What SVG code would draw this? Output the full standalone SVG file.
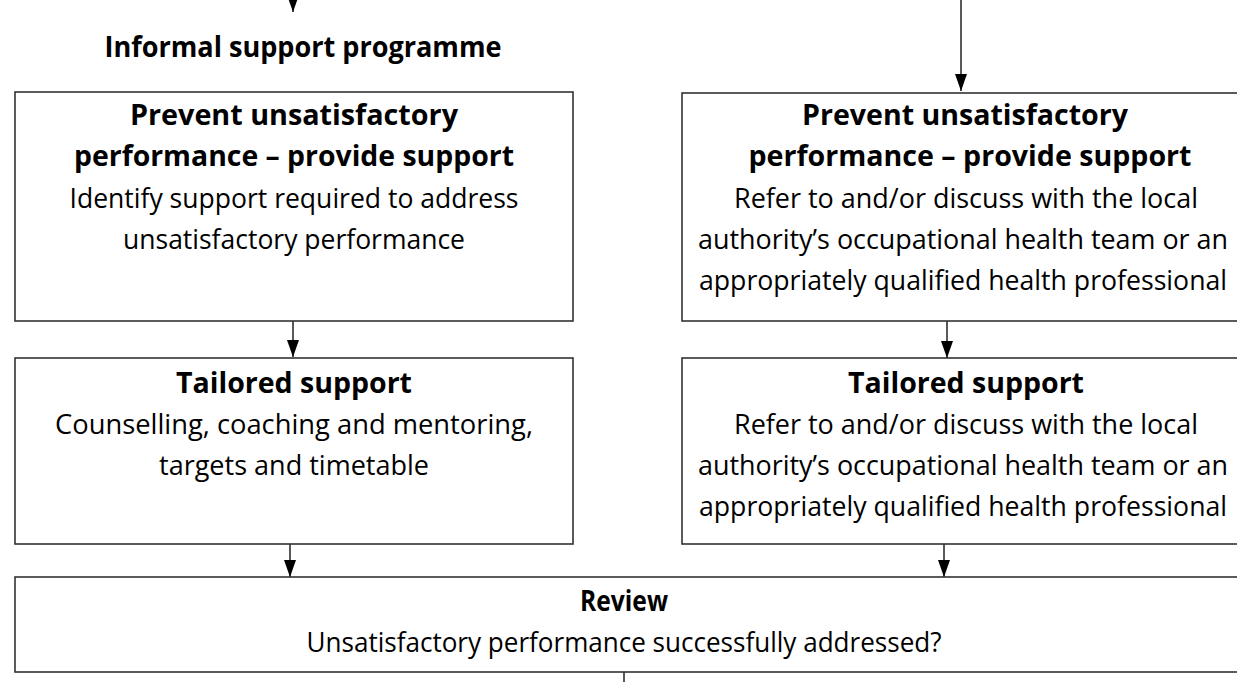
<svg xmlns="http://www.w3.org/2000/svg" width="1237" height="682" viewBox="0 0 1237 682">
<style>
.box{fill:#fff;stroke:#333;stroke-width:1.6}
.conn{stroke:#222;stroke-width:1.5;fill:none}
text{font-family:"Open Sans","Noto Sans","Liberation Sans",sans-serif;font-size:28px;fill:#000;text-anchor:middle}
.b{font-weight:700}
.r{font-weight:400}
</style>
<defs>
<marker id="ah" viewBox="0 0 17 12" refX="17" refY="6" markerWidth="17" markerHeight="12" markerUnits="userSpaceOnUse" orient="auto">
<path d="M0,0 L17,6 L0,12 Z" fill="#000"/>
</marker>
</defs>
<rect width="1237" height="682" fill="#fff"/>
<g id="connectors">
<line class="conn" x1="293" y1="-5" x2="293" y2="12" marker-end="url(#ah)"/>
<line class="conn" x1="961" y1="0" x2="961" y2="91" marker-end="url(#ah)"/>
<line class="conn" x1="293" y1="321" x2="293" y2="357" marker-end="url(#ah)"/>
<line class="conn" x1="947" y1="321" x2="947" y2="358" marker-end="url(#ah)"/>
<line class="conn" x1="290" y1="544" x2="290" y2="577" marker-end="url(#ah)"/>
<line class="conn" x1="944" y1="544" x2="944" y2="577" marker-end="url(#ah)"/>
<line class="conn" x1="624" y1="672" x2="624" y2="690"/>
</g>
<g id="title">
<text class="b" x="303" y="57" textLength="397" lengthAdjust="spacingAndGlyphs">Informal support programme</text>
</g>
<g id="left-prevent">
<rect class="box" x="15" y="92" width="558" height="229"/>
<text class="b" x="294" y="125" textLength="328" lengthAdjust="spacingAndGlyphs">Prevent unsatisfactory</text>
<text class="b" x="294" y="166" textLength="440" lengthAdjust="spacingAndGlyphs">performance – provide support</text>
<text class="r" x="294" y="208" textLength="449" lengthAdjust="spacingAndGlyphs">Identify support required to address</text>
<text class="r" x="294" y="249" textLength="342" lengthAdjust="spacingAndGlyphs">unsatisfactory performance</text>
</g>
<g id="left-tailored">
<rect class="box" x="15" y="358" width="558" height="186"/>
<text class="b" x="294" y="393" textLength="236" lengthAdjust="spacingAndGlyphs">Tailored support</text>
<text class="r" x="294" y="434" textLength="478" lengthAdjust="spacingAndGlyphs">Counselling, coaching and mentoring,</text>
<text class="r" x="294" y="475" textLength="270" lengthAdjust="spacingAndGlyphs">targets and timetable</text>
</g>
<g id="right-prevent">
<rect class="box" x="682" y="93" width="580" height="228"/>
<text class="b" x="965" y="125" textLength="326" lengthAdjust="spacingAndGlyphs">Prevent unsatisfactory</text>
<text class="b" x="970" y="166" textLength="443" lengthAdjust="spacingAndGlyphs">performance – provide support</text>
<text class="r" x="966" y="208" textLength="464" lengthAdjust="spacingAndGlyphs">Refer to and/or discuss with the local</text>
<text class="r" x="963" y="249" textLength="530" lengthAdjust="spacingAndGlyphs">authority’s occupational health team or an</text>
<text class="r" x="963" y="290" textLength="528" lengthAdjust="spacingAndGlyphs">appropriately qualified health professional</text>
</g>
<g id="right-tailored">
<rect class="box" x="682" y="358" width="580" height="186"/>
<text class="b" x="966" y="393" textLength="236" lengthAdjust="spacingAndGlyphs">Tailored support</text>
<text class="r" x="966" y="434" textLength="464" lengthAdjust="spacingAndGlyphs">Refer to and/or discuss with the local</text>
<text class="r" x="963" y="475" textLength="530" lengthAdjust="spacingAndGlyphs">authority’s occupational health team or an</text>
<text class="r" x="963" y="516" textLength="528" lengthAdjust="spacingAndGlyphs">appropriately qualified health professional</text>
</g>
<g id="review">
<rect class="box" x="15" y="577" width="1250" height="95"/>
<text class="b" x="624" y="611" textLength="88" lengthAdjust="spacingAndGlyphs">Review</text>
<text class="r" x="624" y="652" textLength="635" lengthAdjust="spacingAndGlyphs">Unsatisfactory performance successfully addressed?</text>
</g>
</svg>
